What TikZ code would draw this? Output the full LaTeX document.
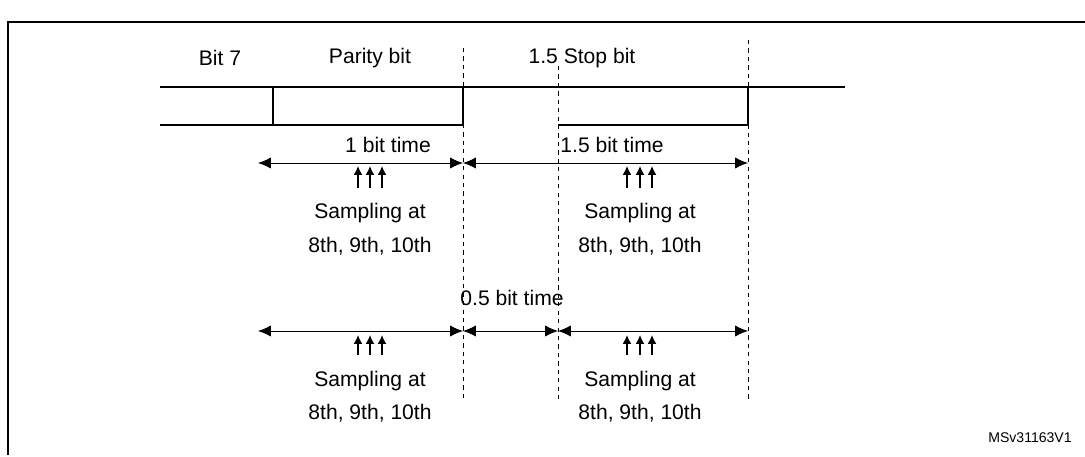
\documentclass[tikz,border=0pt]{standalone}
\usepackage{fontspec}
\setmainfont{Liberation Sans}
\usetikzlibrary{arrows.meta}
\begin{document}
\begin{tikzpicture}[x=0.025cm,y=-0.025cm,
  sig/.style={line width=0.8pt},
  guide/.style={dashed,line width=0.5pt},
  dim/.style={{Latex[length=3.2mm,width=2.8mm]}-{Latex[length=3.2mm,width=2.8mm]},line width=0.7pt},
  samp/.style={-{Latex[length=2.2mm,width=2.2mm]},line width=1pt},
  lbl/.style={font=\fontsize{15}{17}\selectfont,inner sep=0pt},
  tiny/.style={font=\fontsize{10}{12}\selectfont,inner sep=0pt}]
\useasboundingbox (0,0) rectangle (1085,457);
\draw[line width=1pt] (8,455) -- (8,22) -- (1090,22);
% signal
\draw[sig] (160,87) -- (845,87);
\draw[sig] (160,125) -- (463,125) -- (463,87);
\draw[sig] (273,87) -- (273,125);
\draw[sig] (558,125) -- (748,125) -- (748,87);
% dashed guides
\coordinate (d1t) at (463,48); \coordinate (d1b) at (463,402);
\coordinate (d2t) at (558,66); \coordinate (d2b) at (558,402);
\coordinate (d3t) at (748,40); \coordinate (d3b) at (748,402);
\draw[guide] (d1t) -- (d1b);
\draw[guide] (d2t) -- (d2b);
\draw[guide] (d3t) -- (d3b);
% labels
\node[lbl] (b7) at (220,58) {Bit 7};
\node[lbl] (pb) at (370,58) {Parity bit};
\node[lbl] (sb) at (582,58) {1.5 Stop bit};
\node[lbl] (t1) at (388,145) {1 bit time};
\node[lbl] (t15) at (612,145) {1.5 bit time};
\node[lbl] (t05) at (512,298) {0.5 bit time};
% dimension arrows
\coordinate (a1) at (258,163); \coordinate (a2) at (463,163); \coordinate (a3) at (748,163);
\draw[dim] (a1) -- (a2); \draw[dim] (a2) -- (a3);
\coordinate (c1) at (258,331); \coordinate (c2) at (463,331); \coordinate (c3) at (558,331); \coordinate (c4) at (748,331);
\draw[dim] (c1) -- (c2); \draw[dim] (c2) -- (c3); \draw[dim] (c3) -- (c4);
% sampling arrows
\foreach \x in {358,370,382,627,640,652} {\coordinate (s\x) at (\x,188); \coordinate (e\x) at (\x,166); \draw[samp] (s\x) -- (e\x);}
\foreach \x in {358,370,382,627,640,652} {\coordinate (u\x) at (\x,355); \coordinate (v\x) at (\x,335); \draw[samp] (u\x) -- (v\x);}
\node[lbl] (sa1) at (370,213) {Sampling at};
\node[lbl] (sn1) at (370,246) {8th, 9th, 10th};
\node[lbl] (sa2) at (640,213) {Sampling at};
\node[lbl] (sn2) at (640,246) {8th, 9th, 10th};
\node[lbl] (sa3) at (370,381) {Sampling at};
\node[lbl] (sn3) at (370,413) {8th, 9th, 10th};
\node[lbl] (sa4) at (640,381) {Sampling at};
\node[lbl] (sn4) at (640,413) {8th, 9th, 10th};
\node[tiny] (ms) at (1030,438) {MSv31163V1};
\end{tikzpicture}
\end{document}
